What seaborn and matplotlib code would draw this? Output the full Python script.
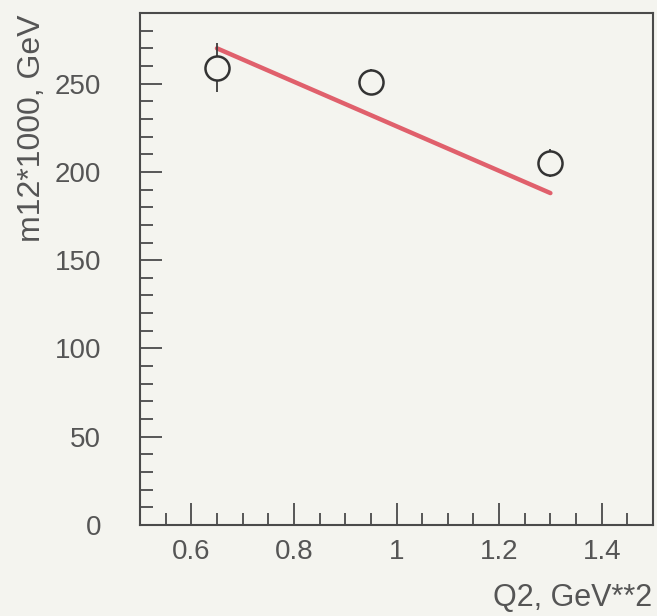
import matplotlib
matplotlib.use("Agg")
import matplotlib.pyplot as plt
import seaborn as sns
import pandas as pd
from matplotlib.ticker import MultipleLocator

# Measured points: Q2 (GeV^2) versus m12*1000 (GeV)
q2 = [0.65, 0.95, 1.30]
m12 = [259, 251, 205]
m12_err = [14, 7, 8]

# Linear fit drawn across the measured range
fit_q2 = [0.65, 1.30]
fit_m12 = [270, 188]

bg = "#f4f4ef"
ink = "#4a4a4a"

sns.set_theme(style="white")
plt.rcParams["font.family"] = ["Liberation Sans", "DejaVu Sans"]

fig = plt.figure(figsize=(6.57, 6.16), dpi=100, facecolor=bg)
ax = fig.add_axes([140 / 657, 1 - 525 / 616, 513 / 657, 512 / 616])
ax.set_facecolor(bg)

pts = pd.DataFrame({"Q2": q2, "m12": m12})
fit = pd.DataFrame({"Q2": fit_q2, "m12": fit_m12})

sns.lineplot(data=fit, x="Q2", y="m12", color="#e0606c", linewidth=3.2, ax=ax, zorder=2)
ax.errorbar(q2, m12, yerr=m12_err, fmt="none", ecolor="#3a3a3a", elinewidth=1.3, zorder=3)
sns.scatterplot(data=pts, x="Q2", y="m12", marker="o", s=300, facecolor=bg,
                edgecolor="#333333", linewidth=1.8, ax=ax, zorder=4)

ax.set_xlim(0.5, 1.5)
ax.set_ylim(0, 290)
ax.xaxis.set_major_locator(MultipleLocator(0.2))
ax.xaxis.set_minor_locator(MultipleLocator(0.05))
ax.yaxis.set_major_locator(MultipleLocator(50))
ax.yaxis.set_minor_locator(MultipleLocator(10))
ax.set_xticks([0.6, 0.8, 1.0, 1.2, 1.4])
ax.set_xticklabels(["0.6", "0.8", "1", "1.2", "1.4"])

ax.tick_params(which="both", direction="in", color=ink, labelcolor="#555555",
               top=False, right=False, bottom=True, left=True)
ax.tick_params(which="major", length=16, width=1.3, labelsize=20)
ax.tick_params(which="minor", length=9, width=1.3)
ax.tick_params(axis="y", which="major", pad=28)
ax.tick_params(axis="x", which="major", pad=10)

for sp in ax.spines.values():
    sp.set_color(ink)
    sp.set_linewidth(1.5)

ax.set_xlabel("")
ax.set_ylabel("")
fig.text(32 / 657, 1 - 15 / 616, "m12*1000, GeV", rotation=90, ha="center", va="top",
         fontsize=23, color="#555555")
fig.text(652 / 657, 1 - 598 / 616, "Q2, GeV**2", ha="right", va="center",
         fontsize=22, color="#555555")

fig.savefig("out.png", dpi=100, facecolor=bg)
